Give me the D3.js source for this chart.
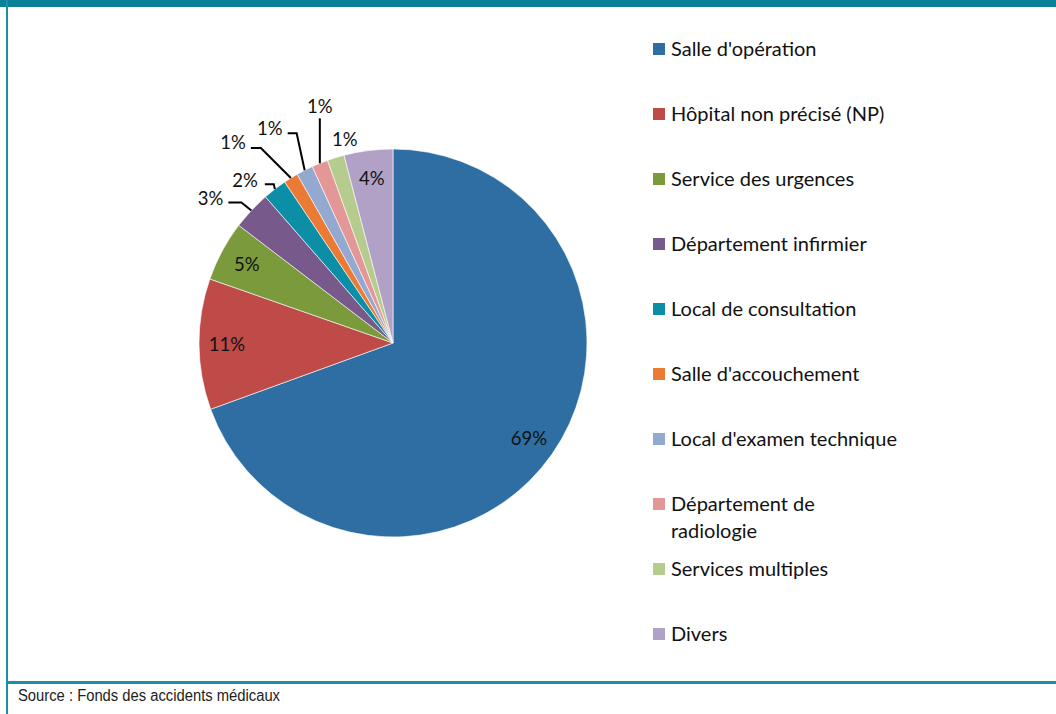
<!DOCTYPE html>
<html>
<head>
<meta charset="utf-8">
<script src="https://cdn.jsdelivr.net/npm/d3@7"></script>
<style>
  html, body { margin: 0; padding: 0; background: #fff; }
  svg { display: block; }
  .lbl { font-family: Lato, "Noto Sans", sans-serif; font-size: 18.5px; fill: #111; }
  .legend text { font-family: Lato, "Noto Sans", sans-serif; font-size: 20px; fill: #111; }
  .source { font-family: "Liberation Sans", Arial, sans-serif; font-size: 16px; fill: #222; }
</style>
</head>
<body>
<svg id="chart" width="1056" height="714"></svg>
<script>
// Lieux des accidents (part du total)
const categories = [
  "Salle d'opération",
  "Hôpital non précisé (NP)",
  "Service des urgences",
  "Département infirmier",
  "Local de consultation",
  "Salle d'accouchement",
  "Local d'examen technique",
  "Département de radiologie",
  "Services multiples",
  "Divers"
];
const shares = [0.6946, 0.109, 0.0502, 0.0321, 0.0199, 0.0121, 0.0139, 0.0135, 0.0142, 0.0406];
const colors = ["#2e6ea3", "#be4b48", "#7a9a3b", "#775a8b", "#0c8ea6", "#eb7a35", "#93a9d0", "#e39897", "#b5cc8e", "#b2a1c7"];
// legend wraps this entry over two lines
const legendLines = [
  ["Salle d'opération"], ["Hôpital non précisé (NP)"], ["Service des urgences"],
  ["Département infirmier"], ["Local de consultation"], ["Salle d'accouchement"],
  ["Local d'examen technique"], ["Département de", "radiologie"], ["Services multiples"], ["Divers"]
];
const sourceText = "Source : Fonds des accidents médicaux";

// Outside labels for the narrow slices: leader path offsets from the slice's rim point.
// elbow = [dx, dy] relative to rim point, tail = horizontal run toward the text (px)
const outsideLayout = {
  3: { elbow: [-10, -8], tail: -13, anchor: "end", gap: -5, dyText: -4 },
  4: { elbow: [-1, -5], tail: -9, anchor: "end", gap: -7, dyText: -4 },
  5: { elbow: [-30, -30], tail: -10, anchor: "end", gap: -5, dyText: -6 },
  6: { elbow: [-8, -37], tail: -9, anchor: "end", gap: -5, dyText: -5 },
  7: { up: 45, dyText: -12 },
  8: { text: [9, -18] }
};

const svg = d3.select("#chart");
const W = 1056, H = 714;

// frame
svg.append("rect").attr("x", 0).attr("y", 0).attr("width", W).attr("height", 7).attr("fill", "#0a8199");
svg.append("rect").attr("x", 6).attr("y", 0).attr("width", 2).attr("height", H).attr("fill", "#1a8fa5");
svg.append("rect").attr("x", 6).attr("y", 681).attr("width", W - 6).attr("height", 3).attr("fill", "#1a8fa5");
// narrow face: squeeze the source line to a condensed width
svg.append("text").attr("class", "source").attr("x", 18).attr("y", 701)
  .attr("textLength", 262).attr("lengthAdjust", "spacingAndGlyphs").text(sourceText);

// pie
const cx = 393, cy = 343, R = 194;
const data = categories.map((c, i) => ({ name: c, value: shares[i], color: colors[i], i }));
const pie = d3.pie().value(d => d.value).sort(null).startAngle(0).endAngle(2 * Math.PI);
const arcs = pie(data);
const arc = d3.arc().innerRadius(0).outerRadius(R);
const g = svg.append("g").attr("transform", `translate(${cx},${cy})`);

g.selectAll("path.slice").data(arcs).join("path")
  .attr("class", "slice")
  .attr("d", arc)
  .attr("fill", d => d.data.color)
  .attr("stroke", "#fff")
  .attr("stroke-width", 0.6);

const pct = d3.format(".0%");
const polar = (a, r) => [r * Math.sin(a), -r * Math.cos(a)];

arcs.forEach(d => {
  const mid = (d.startAngle + d.endAngle) / 2;
  const label = pct(d.data.value);
  const lay = outsideLayout[d.data.i];
  if (!lay) {
    const [x, y] = polar(mid, 166);
    g.append("text").attr("class", "lbl").attr("x", x).attr("y", y)
      .attr("dy", "0.35em").attr("text-anchor", "middle").text(label);
    return;
  }
  const [rx, ry] = polar(mid, R);
  if (lay.text) {
    g.append("text").attr("class", "lbl").attr("x", rx + lay.text[0]).attr("y", ry + lay.text[1])
      .attr("dy", "0.35em").attr("text-anchor", "middle").text(label);
    return;
  }
  if (lay.up) {
    const ty = ry - lay.up;
    g.append("path").attr("d", d3.line()([[rx, ry], [rx, ty]]))
      .attr("fill", "none").attr("stroke", "#000").attr("stroke-width", 2);
    g.append("text").attr("class", "lbl").attr("x", rx).attr("y", ty + lay.dyText)
      .attr("dy", "0.35em").attr("text-anchor", "middle").text(label);
    return;
  }
  const ex = rx + lay.elbow[0], ey = ry + lay.elbow[1];
  const tx = ex + lay.tail;
  g.append("path").attr("d", d3.line()([[rx, ry], [ex, ey], [tx, ey]]))
    .attr("fill", "none").attr("stroke", "#000").attr("stroke-width", 2);
  g.append("text").attr("class", "lbl").attr("x", tx + lay.gap).attr("y", ey + lay.dyText)
    .attr("dy", "0.35em").attr("text-anchor", lay.anchor).text(label);
});

// legend
const ly = d3.scalePoint().domain(d3.range(categories.length)).range([49, 634]);
const legend = svg.append("g").attr("class", "legend");
data.forEach(d => {
  const y = ly(d.i);
  legend.append("rect").attr("x", 653).attr("y", y - 6).attr("width", 12).attr("height", 12).attr("fill", d.color);
  const t = legend.append("text").attr("x", 671).attr("y", y);
  legendLines[d.i].forEach((line, k) => {
    t.append("tspan").attr("x", 671).attr("dy", k === 0 ? "0.35em" : 27).text(line);
  });
});
</script>
</body>
</html>
